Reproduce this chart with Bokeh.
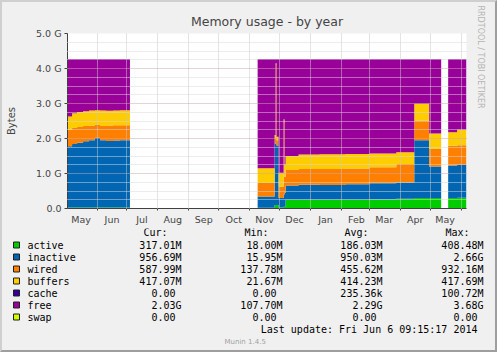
import pandas as pd
from bokeh.plotting import figure
from bokeh.models import (ColumnDataSource, FixedTicker, DatetimeTickFormatter, Range1d,
                          Label, Title)
from bokeh.layouts import column
from bokeh.embed import file_html
from bokeh.resources import INLINE
from bokeh.core.properties import value

# ---------------- data (GiB) ----------------
names = ["active", "inactive", "wired", "buffers", "cache", "free", "swap"]
colors = ["#00CC00", "#0066B3", "#FF8000", "#FFCC00", "#330099", "#990099", "#CCFF00"]

segment = [1] * 10 + [2] * 15 + [3] * 2
starts = ["2013-05-02 09:15", "2013-05-07", "2013-05-12", "2013-05-18", "2013-05-24",
          "2013-05-30", "2013-06-04", "2013-06-10", "2013-06-17", "2013-06-24",
          "2013-11-09", "2013-11-26", "2013-11-27", "2013-11-28", "2013-11-30",
          "2013-12-05", "2013-12-06", "2013-12-07", "2013-12-20", "2014-01-10",
          "2014-02-05", "2014-03-01", "2014-03-28", "2014-04-15", "2014-04-30",
          "2014-05-19", "2014-05-28"]
ends = ["2013-05-07", "2013-05-12", "2013-05-18", "2013-05-24", "2013-05-30",
        "2013-06-04", "2013-06-10", "2013-06-17", "2013-06-24", "2013-07-04",
        "2013-11-26", "2013-11-27", "2013-11-28", "2013-11-30", "2013-12-05",
        "2013-12-06", "2013-12-07", "2013-12-20", "2014-01-10", "2014-02-05",
        "2014-03-01", "2014-03-28", "2014-04-15", "2014-04-30", "2014-05-12",
        "2014-05-28", "2014-06-06 09:15"]
active = [0.03, 0.03, 0.03, 0.03, 0.03, 0.03, 0.03, 0.03, 0.03, 0.03,
          0.02, 0.10, 0.10, 0.10, 0.03, 0.05, 0.05, 0.25, 0.25, 0.25,
          0.25, 0.26, 0.28, 0.30, 0.30, 0.30, 0.31]
inactive = [1.75, 1.81, 1.85, 1.89, 1.92, 1.99, 1.92, 1.90, 1.91, 1.92,
            0.32, 1.75, 1.80, 1.70, 0.27, 0.35, 0.40, 0.41, 0.43, 0.42,
            0.44, 0.46, 0.46, 1.65, 0.90, 0.93, 0.93]
wired = [0.47, 0.46, 0.45, 0.44, 0.42, 0.38, 0.41, 0.44, 0.44, 0.43,
         0.39, 0.15, 2.20, 0.15, 0.32, 2.05, 0.45, 0.44, 0.45, 0.46,
         0.45, 0.46, 0.53, 0.56, 0.51, 0.56, 0.57]
buffers = [0.38, 0.42, 0.43, 0.42, 0.43, 0.41, 0.44, 0.42, 0.42, 0.43,
           0.42, 0.10, 0.05, 0.10, 0.40, 0.10, 0.35, 0.40, 0.41, 0.42,
           0.42, 0.39, 0.34, 0.48, 0.43, 0.39, 0.44]
cache = [0.0] * 27
free = [1.64, 1.55, 1.51, 1.49, 1.47, 1.46, 1.47, 1.48, 1.47, 1.46,
        3.12, 2.17, 0.12, 2.22, 3.25, 1.72, 3.02, 2.77, 2.73, 2.72,
        2.71, 2.70, 2.66, 1.28, 2.13, 2.09, 2.02]
swap = [0.0] * 27

x_start = "2013-05-02 09:15:17"
x_end = "2014-06-06 09:15:17"
month_starts = ["2013-06-01", "2013-07-01", "2013-08-01", "2013-09-01", "2013-10-01",
                "2013-11-01", "2013-12-01", "2014-01-01", "2014-02-01", "2014-03-01",
                "2014-04-01", "2014-05-01", "2014-06-01"]
month_labels_at = ["2013-05-16", "2013-06-16", "2013-07-16", "2013-08-16", "2013-09-16",
                   "2013-10-16", "2013-11-16", "2013-12-16", "2014-01-16", "2014-02-16",
                   "2014-03-16", "2014-04-16", "2014-05-16"]
y_ticks = [0, 1, 2, 3, 4, 5]
y_tick_labels = ["0.0", "1.0 G", "2.0 G", "3.0 G", "4.0 G", "5.0 G"]
y_minor = [0.25, 0.5, 0.75, 1.25, 1.5, 1.75, 2.25, 2.5, 2.75, 3.25, 3.5, 3.75,
           4.25, 4.5, 4.75]

cur = ["317.01M", "956.69M", "587.99M", "417.07M", "0.00", "2.03G", "0.00"]
mins = ["18.00M", "15.95M", "137.78M", "21.67M", "0.00", "107.70M", "0.00"]
avgs = ["186.03M", "950.03M", "455.62M", "414.23M", "235.36k", "2.29G", "0.00"]
maxs = ["408.48M", "2.66G", "932.16M", "417.69M", "100.72M", "3.68G", "0.00"]

# ---------------- helpers ----------------
def ms(d):
    return pd.Timestamp(d).value / 1e6

series = dict(active=active, inactive=inactive, wired=wired, buffers=buffers,
              cache=cache, free=free, swap=swap)

BG = "#F0F0F0"
W = 493
H1 = 226

p = figure(width=W, height=H1, x_axis_type="datetime",
           x_range=Range1d(ms(x_start), ms(x_end)), y_range=Range1d(0, 5.0),
           output_backend="svg", toolbar_location=None,
           min_border_left=65, min_border_right=28, min_border_top=31, min_border_bottom=20)
p.background_fill_color = "white"
p.border_fill_color = BG
p.outline_line_color = None
p.frame_align = False

for sid in sorted(set(segment)):
    idx = [i for i, s in enumerate(segment) if s == sid]
    data = {"x": []}
    for n in names:
        data[n] = []
    for i in idx:
        data["x"] += [ms(starts[i]), ms(ends[i])]
        for n in names:
            data[n] += [series[n][i], series[n][i]]
    src = ColumnDataSource(data)
    p.varea_stack(stackers=names, x="x", color=colors, source=src)

# title
p.title.text = "Memory usage - by year"
p.title.align = "center"
p.title.text_font = "DejaVu Sans"
p.title.text_font_size = "12.5px"
p.title.text_font_style = "normal"
p.title.standoff = 10

side = Title(text="RRDTOOL / TOBI OETIKER", align="left", text_font="DejaVu Sans",
             text_font_size="8px", text_font_style="normal", text_color="#B4B4B4",
             standoff=18, offset=-28)
p.add_layout(side, "right")

# x axis
xax = p.xaxis[0]
xax.ticker = FixedTicker(ticks=[ms(d) for d in month_labels_at],
                         minor_ticks=[ms(d) for d in month_starts])
fmt = "%b"
xax.formatter = DatetimeTickFormatter(microseconds=fmt, milliseconds=fmt, seconds=fmt,
                                      minsec=fmt, minutes=fmt, hourmin=fmt, hours=fmt,
                                      days=fmt, months=fmt, years=fmt)
xax.major_tick_out = 0
xax.major_tick_in = 0
xax.minor_tick_out = 2
xax.minor_tick_in = 0
xax.major_label_standoff = 3
xax.major_label_text_font = "DejaVu Sans"
xax.major_label_text_font_size = "9.5px"
xax.axis_line_color = "#404040"
xax.minor_tick_line_color = "#404040"

# y axis
yax = p.yaxis[0]
yax.ticker = FixedTicker(ticks=y_ticks, minor_ticks=y_minor)
yax.major_label_overrides = {t: l for t, l in zip(y_ticks, y_tick_labels)}
yax.major_tick_out = 3
yax.major_tick_in = 0
yax.minor_tick_out = 0
yax.minor_tick_in = 0
yax.major_label_standoff = 3
yax.major_label_text_font = "DejaVu Sans"
yax.major_label_text_font_size = "9.5px"
yax.axis_label = "Bytes"
yax.axis_label_text_font = "DejaVu Sans"
yax.axis_label_text_font_size = "10px"
yax.axis_label_text_font_style = "normal"
yax.axis_label_standoff = 16
yax.axis_line_color = "#404040"
yax.major_tick_line_color = "#404040"

# grid
p.xgrid.ticker = FixedTicker(ticks=[ms(d) for d in month_starts])
p.xgrid.grid_line_color = "#C8C8C8"
p.xgrid.grid_line_dash = "1 1"
p.ygrid.grid_line_color = "#C8A8A8"
p.ygrid.grid_line_dash = "1 1"
p.ygrid.minor_grid_line_color = "#D8D8D8"
p.ygrid.minor_grid_line_dash = "1 1"
p.xgrid.level = "overlay"
p.ygrid.level = "overlay"

# axis arrow heads
p.add_layout(Label(x=ms(x_end), y=0, text="\u25B6", text_color="#A0263A",
                   text_font="DejaVu Sans", text_font_size="7px",
                   text_align="left", text_baseline="middle"))
p.add_layout(Label(x=ms(x_start), y=5.0, text="\u25B2", text_color="#A0263A",
                   text_font="DejaVu Sans", text_font_size="7px",
                   text_align="center", text_baseline="bottom"))

# ---------------- legend panel ----------------
H2 = 352 - 4 - H1
q = figure(width=W, height=H2, x_range=Range1d(0, W), y_range=Range1d(H2, 0),
           output_backend="svg", toolbar_location=None,
           x_axis_location=None, y_axis_location=None, min_border=0)
q.grid.visible = False
q.outline_line_color = None
q.background_fill_color = BG
q.border_fill_color = BG
q.frame_align = False

OX, OY = 2, 2 + H1  # global offset of this panel
CW = 6.02
mono = value("DejaVu Sans Mono")
row_y = [244.5 + 12 * i - OY for i in range(len(names))]

q.rect(x=[16 - OX] * len(names), y=row_y, width=6, height=6,
       fill_color=colors, line_color="#202020", line_width=1)
q.text(x=[27 - OX] * len(names), y=row_y, text=names, text_font=mono,
       text_font_size="10px", text_baseline="middle", text_align="left")

col_edges = [181, 282, 382, 483]
heads = ["Cur:", "Min:", "Avg:", "Max:"]
for edge, head, vals in zip(col_edges, heads, [cur, mins, avgs, maxs]):
    q.text(x=[edge - 14 - OX], y=[232 - OY], text=[head], text_font=mono,
           text_font_size="10px", text_baseline="middle", text_align="right")
    xs = [edge - OX - (0 if v[-1].isalpha() else CW) for v in vals]
    q.text(x=xs, y=row_y, text=vals, text_font=mono, text_font_size="10px",
           text_baseline="middle", text_align="right")

q.text(x=[483 - OX], y=[329 - OY], text=["Last update: Fri Jun  6 09:15:17 2014"],
       text_font=mono, text_font_size="10px", text_baseline="middle", text_align="right")
q.text(x=[224 - OX], y=[341 - OY], text=["Munin 1.4.5"], text_font=value("DejaVu Sans"),
       text_font_size="7px", text_baseline="middle", text_align="left", text_color="#A0A0A0")

layout = column(p, q, spacing=0, styles={
    "border-top": "2px solid #CFCFCF", "border-left": "2px solid #CFCFCF",
    "border-right": "2px solid #9E9E9E", "border-bottom": "2px solid #9E9E9E",
    "background-color": BG})

open("out.html", "w").write(file_html(layout, INLINE))
